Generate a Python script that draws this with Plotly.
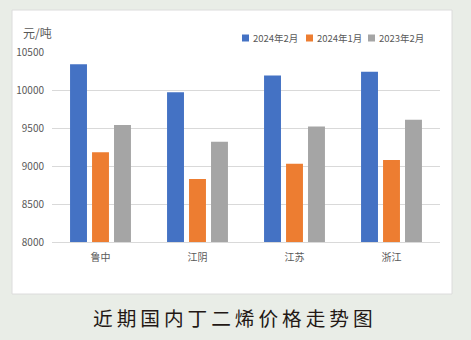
import plotly.graph_objects as go

categories = ["鲁中", "江阴", "江苏", "浙江"]
series_names = ["2024年2月", "2024年1月", "2023年2月"]
feb_2024 = [10340, 9970, 10190, 10240]
jan_2024 = [9180, 8830, 9030, 9080]
feb_2023 = [9540, 9320, 9520, 9610]
y_ticks = [8000, 8500, 9000, 9500, 10000, 10500]
colors = ["#4472c4", "#ed7d31", "#a5a5a5"]

W, H = 471, 340
L, R, T, B = 52, 31, 52, 98
pw, ph = W - L - R, H - T - B

def px_x(x):
    return (x - L) / pw

def px_y(y):
    return (H - B - y) / ph

fig = go.Figure()
for name, vals, c in zip(series_names, [feb_2024, jan_2024, feb_2023], colors):
    fig.add_trace(go.Bar(x=categories, y=vals, name=name, marker_color=c,
                         marker_line_width=0))

font_cjk = "Noto Sans CJK SC, Noto Sans, sans-serif"

annotations = [
    dict(text="元/吨", xref="paper", yref="paper", x=px_x(21), y=px_y(33),
         xanchor="left", yanchor="middle", showarrow=False,
         font=dict(size=12, color="#595959")),
    dict(text="\u2009".join("近期国内丁二烯价格走势图"), xref="paper", yref="paper",
         x=px_x(233), y=px_y(317), xanchor="center", yanchor="middle", showarrow=False,
         font=dict(size=19.7, color="#231815")),
]
shapes = [dict(type="rect", xref="paper", yref="paper", layer="below",
               x0=px_x(12), x1=px_x(452), y0=px_y(294), y1=px_y(10),
               fillcolor="white", line=dict(color="#dcdcdc", width=1))]
legend_x = [242, 306, 368]
for lx, name, c in zip(legend_x, series_names, colors):
    shapes.append(dict(type="rect", xref="paper", yref="paper",
                       x0=px_x(lx), x1=px_x(lx + 7), y0=px_y(41.5), y1=px_y(34.5),
                       fillcolor=c, line=dict(width=0)))
    annotations.append(dict(
        text=name, xref="paper", yref="paper",
        x=px_x(lx + 9), y=px_y(38), xanchor="left", yanchor="middle", showarrow=False,
        font=dict(size=9.5, color="#595959")))

fig.update_layout(
    width=W, height=H,
    margin=dict(l=L, r=R, t=T, b=B),
    paper_bgcolor="#e9ede7",
    plot_bgcolor="white",
    barmode="group", bargap=0.32, bargroupgap=0.23,
    font=dict(family=font_cjk, size=10, color="#595959"),
    showlegend=False,
    xaxis=dict(showgrid=False, showline=True, linecolor="#d9d9d9", linewidth=1,
               ticks="outside", ticklen=6, tickcolor="rgba(0,0,0,0)",
               tickfont=dict(size=10, color="#595959")),
    yaxis=dict(range=[8000, 10500], tickvals=y_ticks, tickformat="d",
               showgrid=True, gridcolor="#d9d9d9",
               gridwidth=1, zeroline=False, showline=False,
               ticks="outside", ticklen=5, tickcolor="rgba(0,0,0,0)",
               tickfont=dict(size=10, color="#595959")),
    shapes=shapes,
    annotations=annotations,
)

fig.write_html("out.html")
